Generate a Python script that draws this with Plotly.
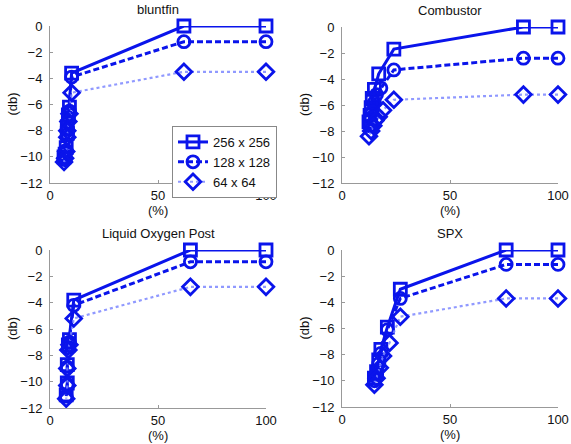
import plotly.graph_objects as go

titles = ["bluntfin", "Combustor", "Liquid Oxygen Post", "SPX"]
series_names = ["256 x 256", "128 x 128", "64 x 64"]

# bluntfin
bf_x = [100, 62, 10, 9, 8.5, 8, 8, 7.5, 7, 6.5]
bf_256 = [0, 0, -3.6, -6.2, -6.8, -7.7, -8.2, -9.3, -9.8, -10.0]
bf_128 = [-1.2, -1.2, -3.9, -6.5, -7.0, -7.9, -8.3, -9.5, -10.0, -10.2]
bf_64 = [-3.5, -3.5, -5.1, -6.7, -7.3, -8.0, -8.5, -9.6, -10.1, -10.4]

# Combustor
cb_x256 = [100, 84, 24, 17, 15, 14, 13.5, 13, 12.5]
cb_x128 = [100, 84, 24, 18, 16, 15, 14, 13.5, 13]
cb_x64 = [100, 84, 24, 19, 17, 15.5, 14.5, 13.5, 12.5]
cb_256 = [0, 0, -1.7, -3.6, -4.8, -5.5, -6.2, -6.8, -7.3]
cb_128 = [-2.4, -2.4, -3.3, -4.7, -5.2, -5.8, -6.5, -7.0, -7.6]
cb_64 = [-5.2, -5.2, -5.6, -6.4, -6.9, -7.2, -7.6, -8.0, -8.4]

# Liquid Oxygen Post
lox_x = [100, 65, 11, 9, 8.5, 8, 8, 7.5]
lox_256 = [0, 0, -3.8, -6.8, -7.2, -8.7, -10.1, -11.0]
lox_128 = [-0.9, -0.9, -4.2, -7.0, -7.4, -8.9, -10.2, -11.1]
lox_64 = [-2.8, -2.8, -5.2, -7.2, -7.6, -9.0, -10.3, -11.3]

# SPX
spx_x256 = [100, 76, 27, 21, 18, 17, 16, 15]
spx_x128 = [100, 76, 27, 21, 18, 17, 16, 15]
spx_x64 = [100, 76, 27, 22, 19, 17.5, 16, 15]
spx_256 = [0, 0, -3.0, -5.9, -7.6, -8.4, -9.3, -9.8]
spx_128 = [-1.1, -1.1, -3.7, -6.1, -7.9, -8.7, -9.5, -10.0]
spx_64 = [-3.7, -3.7, -5.1, -7.1, -8.1, -9.0, -9.8, -10.3]

x_ticks = [0, 50, 100]
y_ticks = [0, -2, -4, -6, -8, -10, -12]

panels = [
    (bf_x, bf_x, bf_x, bf_256, bf_128, bf_64),
    (cb_x256, cb_x128, cb_x64, cb_256, cb_128, cb_64),
    (lox_x, lox_x, lox_x, lox_256, lox_128, lox_64),
    (spx_x256, spx_x128, spx_x64, spx_256, spx_128, spx_64),
]

BLUE = "rgb(10,20,235)"
LIGHT = "rgba(125,135,255,0.85)"
styles = [
    dict(line=dict(color=BLUE, width=3, dash="solid"), symbol="square-open"),
    dict(line=dict(color=BLUE, width=3, dash="6px,3px"), symbol="circle-open"),
    dict(line=dict(color=LIGHT, width=2.2, dash="dot"), symbol="diamond-open"),
]

W, H = 571, 444
px_dom = [
    ((50, 266), (26, 183)),
    ((342, 558), (27, 183)),
    ((50, 266), (250, 408)),
    ((342, 558), (250, 407)),
]
FONT = dict(family="Liberation Sans, Arial", size=13, color="#111111")


def fx(px):
    return px / W


def fy(py):
    return 1 - py / H


fig = go.Figure()
annotations = []
for i, (p, (xd, yd)) in enumerate(zip(panels, px_dom)):
    xs = p[0:3]
    ys = p[3:6]
    ax = "" if i == 0 else str(i + 1)
    for k in range(3):
        st = styles[k]
        fig.add_trace(go.Scatter(
            x=xs[k], y=ys[k], mode="lines+markers",
            name=series_names[k], showlegend=(i == 0),
            line=st["line"],
            marker=dict(symbol=st["symbol"], size=12, color=BLUE,
                        line=dict(width=2.8, color=BLUE)),
            cliponaxis=False, hoverinfo="skip",
            xaxis="x" + ax, yaxis="y" + ax,
        ))
    dx = [fx(xd[0]), fx(xd[1])]
    dy = [fy(yd[1]), fy(yd[0])]
    axis_common = dict(showline=True, linecolor="#999999", linewidth=1,
                       ticks="inside", ticklen=3, tickcolor="#999999",
                       showgrid=False, zeroline=False, automargin=False,
                       tickfont=FONT)
    fig.layout["xaxis" + ax] = dict(domain=dx, range=[0, 100], tickvals=x_ticks,
                                    anchor="y" + ax, **axis_common)
    fig.layout["yaxis" + ax] = dict(domain=dy, range=[-12, 0], tickvals=y_ticks,
                                    anchor="x" + ax, ticklabelstandoff=4, **axis_common)
    cxp = (xd[0] + xd[1]) / 2
    annotations.append(dict(text=titles[i], x=fx(cxp), y=fy(yd[0] - 16),
                            xanchor="center", yanchor="middle",
                            xref="paper", yref="paper", showarrow=False, font=FONT))
    annotations.append(dict(text="(%)", x=fx(cxp), y=fy(yd[1] + 27),
                            xanchor="center", yanchor="middle",
                            xref="paper", yref="paper", showarrow=False, font=FONT))
    annotations.append(dict(text="(db)", x=fx(xd[0] - 38), y=fy((yd[0] + yd[1]) / 2),
                            xanchor="center", yanchor="middle",
                            xref="paper", yref="paper", showarrow=False, textangle=-90,
                            font=FONT))

fig.update_layout(
    width=W, height=H, margin=dict(l=0, r=0, t=0, b=0),
    paper_bgcolor="white", plot_bgcolor="white",
    annotations=annotations,
    legend=dict(x=fx(172), y=fy(126), xanchor="left", yanchor="top",
                bordercolor="#888888", borderwidth=1, bgcolor="white",
                font=FONT, tracegroupgap=0, itemwidth=30),
)

fig.write_html("out.html", config={"displayModeBar": False},
               post_script="document.body.style.margin='0';document.body.style.overflow='hidden';")
